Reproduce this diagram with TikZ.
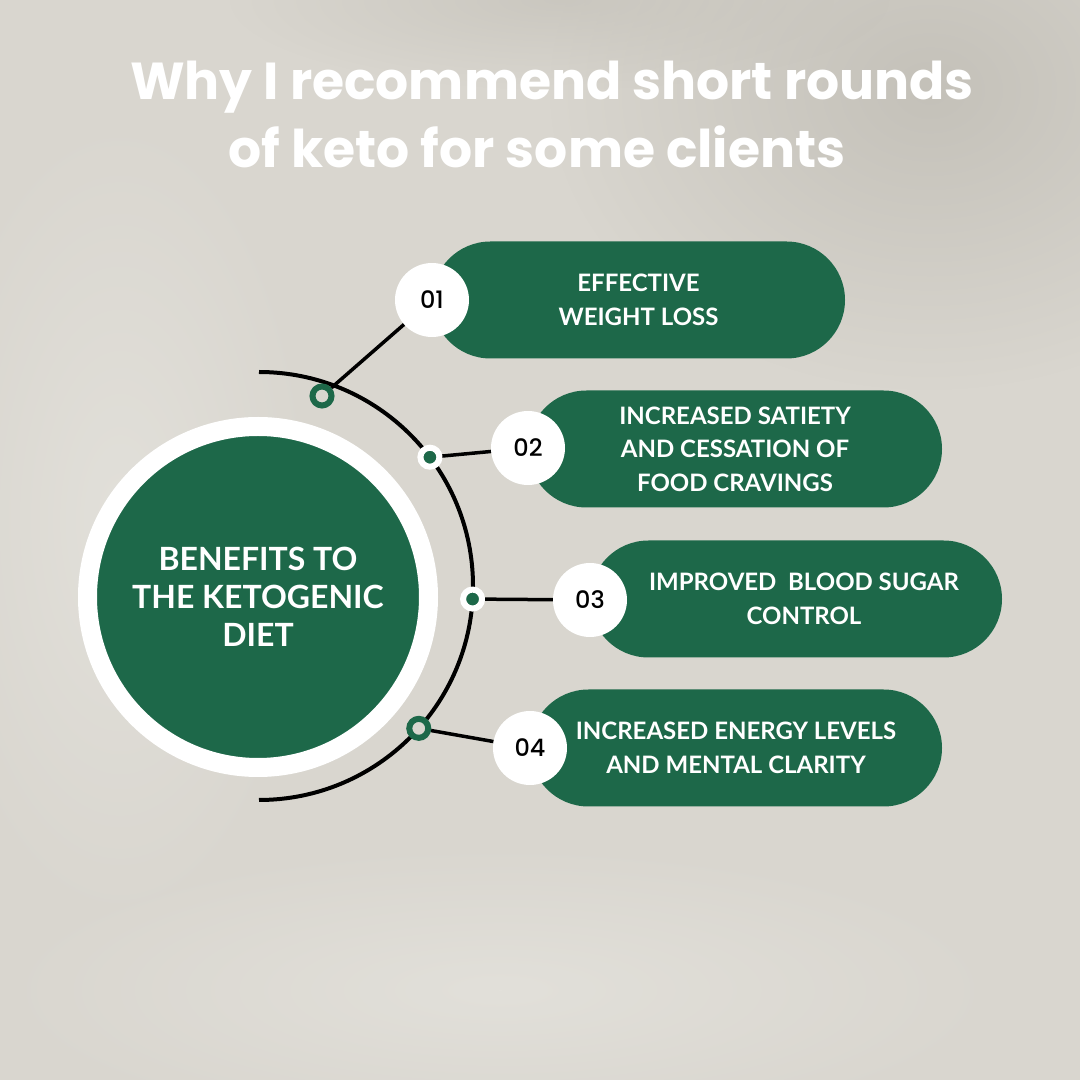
\documentclass[tikz,border=0pt]{standalone}
\usepackage{fontspec}
\setmainfont{Lato}
\newfontfamily\titlefont{Poppins}
\newfontfamily\numfont{Poppins Medium}
\usetikzlibrary{fadings}

\definecolor{keto}{RGB}{29,104,73}
\definecolor{paper}{RGB}{217,214,207}
\definecolor{dusk}{RGB}{196,193,185}
\definecolor{glow}{RGB}{226,224,218}

\tikzfading[name=softedge, inner color=transparent!0, outer color=transparent!100]

\tikzset{
  pill/.style={fill=keto, rounded corners=58.5pt, minimum width=#1,
    minimum height=117pt, inner sep=0pt, text=white, align=center,
    font=\bfseries\fontsize{24}{33.5}\selectfont},
  num/.style={circle, fill=white, minimum size=74pt, inner sep=0pt,
    font=\numfont\fontsize{24}{24}\selectfont},
  ringdot/.style={circle, draw=keto, fill=paper, line width=6pt,
    minimum size=19pt, inner sep=0pt},
  fulldot/.style={circle, draw=white, fill=keto, line width=6pt,
    minimum size=19pt, inner sep=0pt},
  link/.style={line width=3.5pt, black}
}

\begin{document}
\begin{tikzpicture}[x=1pt, y=1pt]
  \useasboundingbox (0,0) rectangle (1080,1080);

  % Background
  \fill[paper] (0,0) rectangle (1080,1080);
  \fill[dusk, path fading=softedge] (930,990) ellipse (380 and 300);
  \fill[dusk, path fading=softedge, opacity=0.7] (560,1080) ellipse (330 and 90);
  \fill[glow, path fading=softedge] (120,560) ellipse (200 and 420);
  \fill[glow, path fading=softedge] (500,90) ellipse (520 and 150);

  % Title
  \node[text=white, align=center, font=\titlefont\bfseries\fontsize{52}{68}\selectfont]
    (title) at (552,966) {Why I recommend short rounds\\of keto for some clients\hspace*{30pt}};

  % Pills
  \node[pill=413pt] (p1) at (638.5,780) {EFFECTIVE\\WEIGHT LOSS};
  \node[pill=414pt] (p2) at (735,631) {INCREASED SATIETY\\AND CESSATION OF\\FOOD CRAVINGS};
  \node[pill=412pt] (p3) at (796,481) {\hspace*{16pt}IMPROVED\ \ BLOOD SUGAR\\\hspace*{16pt}CONTROL};
  \node[pill=412pt] (p4) at (736,332) {INCREASED ENERGY LEVELS\\AND MENTAL CLARITY};

  % Numbers
  \node[num] (n1) at (432,780) {01};
  \node[num] (n2) at (528,632) {02};
  \node[num] (n3) at (590,480) {03};
  \node[num] (n4) at (530,332) {04};

  % Hub circle
  \node[circle, fill=keto, draw=white, line width=19pt, minimum size=341pt,
    inner sep=0pt, text=white, align=center, font=\bfseries\fontsize{32}{38}\selectfont]
    (hub) at (258,483) {BENEFITS TO\\THE KETOGENIC\\DIET};

  % Arc
  \coordinate (arcc) at (259,494);
  \draw[line width=4pt] ([shift={(90:214)}]arcc) arc[start angle=90, end angle=-90, radius=214];

  % Dots on the arc
  \node[ringdot] (d1) at (322,684) {};
  \node[fulldot] (d2) at ([shift={(37:214)}]arcc) {};
  \node[fulldot] (d3) at ([shift={(-3.5:214)}]arcc) {};
  \node[ringdot] (d4) at ([shift={(-41.7:214)}]arcc) {};

  % Links
  \draw[link] (d1) -- (n1);
  \draw[link] (d2) -- (n2);
  \draw[link] (d3) -- (n3);
  \draw[link] (d4) -- (n4);
\end{tikzpicture}
\end{document}
